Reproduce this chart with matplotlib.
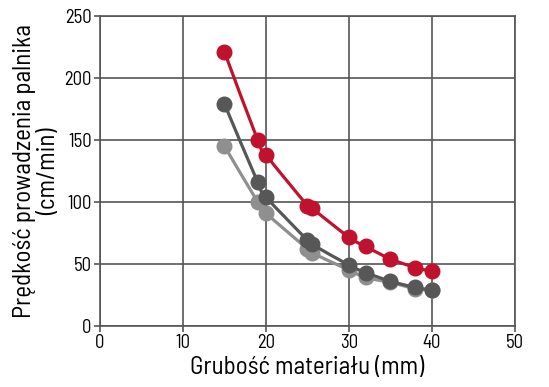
import matplotlib
matplotlib.use("Agg")
import matplotlib.pyplot as plt
from matplotlib import font_manager as fm
from matplotlib.path import Path
from matplotlib.patches import PathPatch

# Data
thickness = [15, 19, 20, 25, 25.5, 30, 32, 35, 38, 40]
speed_red = [221, 150, 138, 97, 95, 71.5, 64, 54, 47, 44]
speed_dark = [179, 116, 104, 69, 66, 49, 43, 36, 31, 29]
speed_light = [145, 100, 91, 62, 59, 45, 39, 35, 30, 29]

x_ticks = [0, 10, 20, 30, 40, 50]
y_ticks = [0, 50, 100, 150, 200, 250]

# pick a condensed font if one is installed
available = {f.name for f in fm.fontManager.ttflist}
font = next((n for n in ["Saira Semi Condensed", "Barlow Semi Condensed",
                         "Encode Sans Semi Condensed", "Fira Sans Condensed"]
             if n in available), "DejaVu Sans")
plt.rcParams['font.family'] = [font, 'DejaVu Sans']


def smooth_path(xs, ys):
    """Bezier path through the points (Catmull-Rom style tangents)."""
    pts = list(zip(xs, ys))
    verts = [pts[0]]
    codes = [Path.MOVETO]
    n = len(pts)
    for i in range(n - 1):
        p0 = pts[max(i - 1, 0)]
        p1 = pts[i]
        p2 = pts[i + 1]
        p3 = pts[min(i + 2, n - 1)]
        c1 = (p1[0] + (p2[0] - p0[0]) / 6, p1[1] + (p2[1] - p0[1]) / 6)
        c2 = (p2[0] - (p3[0] - p1[0]) / 6, p2[1] - (p3[1] - p1[1]) / 6)
        verts += [c1, c2, p2]
        codes += [Path.CURVE4] * 3
    return Path(verts, codes)


fig = plt.figure(figsize=(5.49, 3.87), dpi=100)
ax = fig.add_axes([0.182, 0.158, 0.756, 0.801])

grid_col = "#555555"
ax.set_xlim(0, 50)
ax.set_ylim(0, 250)
ax.set_xticks(x_ticks)
ax.set_yticks(y_ticks)
ax.grid(True, color=grid_col, linewidth=1.2)
ax.set_axisbelow(True)
for s in ax.spines.values():
    s.set_color(grid_col)
    s.set_linewidth(1.2)
ax.tick_params(colors="black", labelsize=13.5, length=4, width=1.2, pad=2)
ax.tick_params(axis="both", color=grid_col)

# Series: smooth line + markers
series = [(speed_light, "#8f8f8f", 3), (speed_dark, "#575757", 4),
          (speed_red, "#c0112e", 5)]
for ys, col, z in series:
    ax.add_patch(PathPatch(smooth_path(thickness, ys), fill=False,
                           edgecolor=col, linewidth=2.3, zorder=z,
                           capstyle="round"))
    ax.plot(thickness, ys, linestyle="none", color=col,
            marker="o", markersize=10.5, zorder=z)

ax.set_xlabel("Grubość materiału (mm)", fontsize=18, labelpad=3)
ax.set_ylabel("Prędkość prowadzenia palnika\n(cm/min)", fontsize=18,
              linespacing=1.05, labelpad=3)

fig.savefig("out.png", dpi=100)
